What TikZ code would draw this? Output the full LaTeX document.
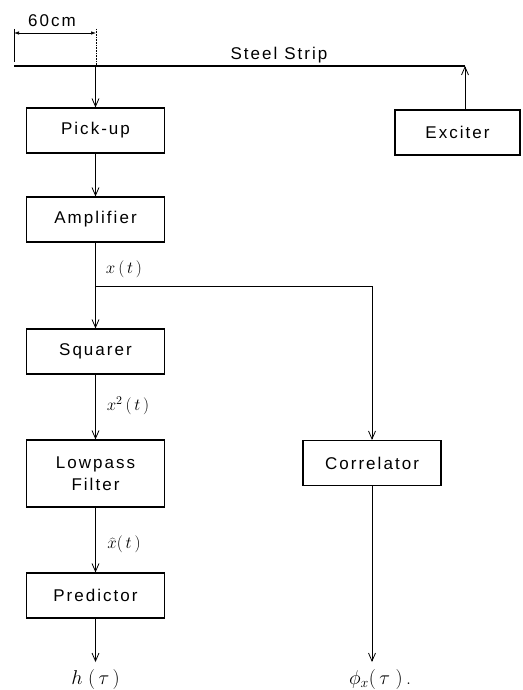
\RequirePackage{fix-cm}
\documentclass[tikz,border=0pt]{standalone}
\usepackage{fontspec}
\usetikzlibrary{arrows.meta}
\newfontfamily\boxfont[LetterSpace=12]{Liberation Sans}
\tikzset{
  blk/.style={draw, line width=1.1pt, minimum width=138pt, minimum height=45pt, inner sep=0pt,
    font=\boxfont\fontsize{17}{22}\selectfont, align=center},
  conn/.style={line width=0.8pt, -{Straight Barb[length=8pt,width=7pt]}},
  lab/.style={font=\fontsize{17}{19}\selectfont, inner sep=0pt},
  outlab/.style={font=\fontsize{20}{22}\selectfont, inner sep=0pt},
  txt/.style={font=\boxfont\fontsize{17}{20}\selectfont, inner sep=0pt},
}
\begin{document}
\begin{tikzpicture}[x=1pt,y=-1pt]
\useasboundingbox (0,0) rectangle (522,690);
% dimension
\coordinate (d1) at (14,33);
\coordinate (d2) at (96,33);
\coordinate (t1) at (14,29);
\coordinate (t2) at (14,62);
\coordinate (q1) at (96,29);
\coordinate (q2) at (96,66);
\draw[line width=0.7pt, {Latex[length=5pt,width=3.5pt]}-{Latex[length=5pt,width=3.5pt]}] (d1) -- (d2);
\draw[line width=0.6pt] (t1) -- (t2);
\draw[line width=0.6pt, densely dotted] (q1) -- (q2);
\node[txt] (dim) at (52,21) {60cm};
% strip
\coordinate (sL) at (14,66);
\coordinate (sR) at (465,66);
\coordinate (sP) at (95.5,66);
\draw[line width=1.8pt] (sL) -- (sR);
\node[txt, anchor=base] (strip) at (279,59.5) {Steel Strip};
% boxes
\node[blk] (pick) at (95.5,130.5) {Pick-up};
\node[blk] (amp) at (95.5,219.5) {Amplifier};
\node[blk] (sq) at (95.5,351.5) {Squarer};
\node[blk, minimum height=67pt] (lp) at (95.5,473.5) {Lowpass\\Filter};
\node[blk] (pred) at (95.5,595.5) {Predictor};
\node[blk, minimum width=125pt] (exc) at (457.5,132.5) {Exciter};
\node[blk] (corr) at (372,463) {Correlator};
% connectors
\draw[conn] (sP) -- (pick.north);
\draw[conn] (sR |- exc.north) -- (sR);
\draw[conn] (pick) -- (amp);
\draw[conn] (amp) -- (sq);
\coordinate (br) at (95.5,286);
\draw[conn] (br) -| (corr.north);
\draw[conn] (sq) -- (lp);
\draw[conn] (lp) -- (pred);
\coordinate (hend) at (95.5,662);
\draw[conn] (pred) -- (hend);
\coordinate (pend) at (372,662);
\draw[conn] (corr) -- (pend);
% labels
\node[lab] (lx) at (124,269) {$x\,(\,t\,)$};
\node[lab] (lx2) at (128,406) {$x^2\,(\,t\,)$};
\node[lab] (lxh) at (124,544) {$\widehat{x}(\,t\,)$};
\node[outlab] (h) at (95.5,679) {$h\;(\,\tau\,)$};
\node[outlab] (phi) at (380,679) {$\phi_x(\,\tau\;)$\,.};
\end{tikzpicture}
\end{document}
